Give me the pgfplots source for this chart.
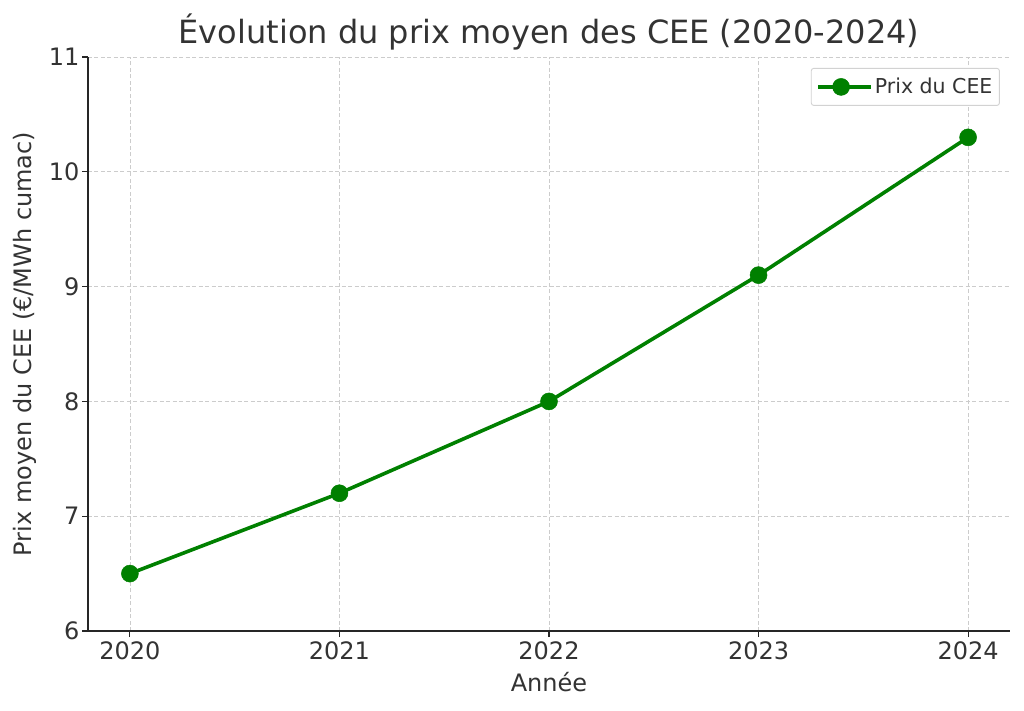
\documentclass[border=0pt]{standalone}
\usepackage{fontspec}
\setmainfont{DejaVu Sans}
\usepackage{pgfplots}
\pgfplotsset{compat=1.18}
\definecolor{txt}{HTML}{333333}
\definecolor{mplgreen}{HTML}{008000}
\begin{document}
\begin{tikzpicture}
\useasboundingbox (-88pt,-79pt) rectangle (936pt,631pt);
\begin{axis}[
    at={(0pt,0pt)}, anchor=south west,
    scale only axis,
    width=922pt, height=574pt,
    xmin=2019.8, xmax=2024.2,
    ymin=6, ymax=11,
    xtick={2020,2021,2022,2023,2024},
    ytick={6,7,8,9,10,11},
    /pgf/number format/assume math mode=true,
    /pgf/number format/set thousands separator={},
    axis lines*=left,
    axis line style={-, line width=1.3pt, black!85},
    tick align=outside,
    major tick length=6pt,
    tick style={line width=1.1pt, black!85},
    ticklabel style={font=\fontsize{24}{28}\selectfont, text=txt},
    xticklabel style={yshift=-1pt},
    yticklabel style={xshift=1pt},
    grid=major,
    major grid style={dash pattern=on 4pt off 2.5pt, gray!40, line width=0.8pt},
    title={Évolution du prix moyen des CEE (2020-2024)},
    title style={font=\fontsize{32}{38}\selectfont, text=txt,
        at={(axis description cs:0.5,1)}, anchor=center, yshift=19pt},
    xlabel={Année},
    ylabel={Prix moyen du CEE (€/MWh cumac)},
    label style={font=\fontsize{24}{28}\selectfont, text=txt},
    xlabel style={at={(axis description cs:0.5,0)}, anchor=center, yshift=-51pt},
    ylabel style={at={(axis description cs:0,0.5)}, anchor=center, yshift=63pt},
    legend style={at={(0.989,0.981)}, anchor=north east,
        draw=gray!35, rounded corners=2.5pt, line width=0.9pt,
        font=\fontsize{20.5}{24}\selectfont, text=txt,
        inner xsep=5pt, inner ysep=8pt},
    legend cell align=left,
    legend image code/.code={
        \draw[mark repeat=2, mark phase=2] plot coordinates {(0pt,0pt) (23pt,0pt) (46pt,0pt)};
        \path (0pt,0pt) -- (53pt,0pt);
    },
]
\addplot[mplgreen, line width=3.6pt, mark=*, mark size=8.5pt,
    mark options={fill=mplgreen, draw=mplgreen, line width=0.5pt}] coordinates {
    (2020,6.5) (2021,7.2) (2022,8.0) (2023,9.1) (2024,10.3)
};
\addlegendentry{Prix du CEE}
\end{axis}
\end{tikzpicture}
\end{document}
